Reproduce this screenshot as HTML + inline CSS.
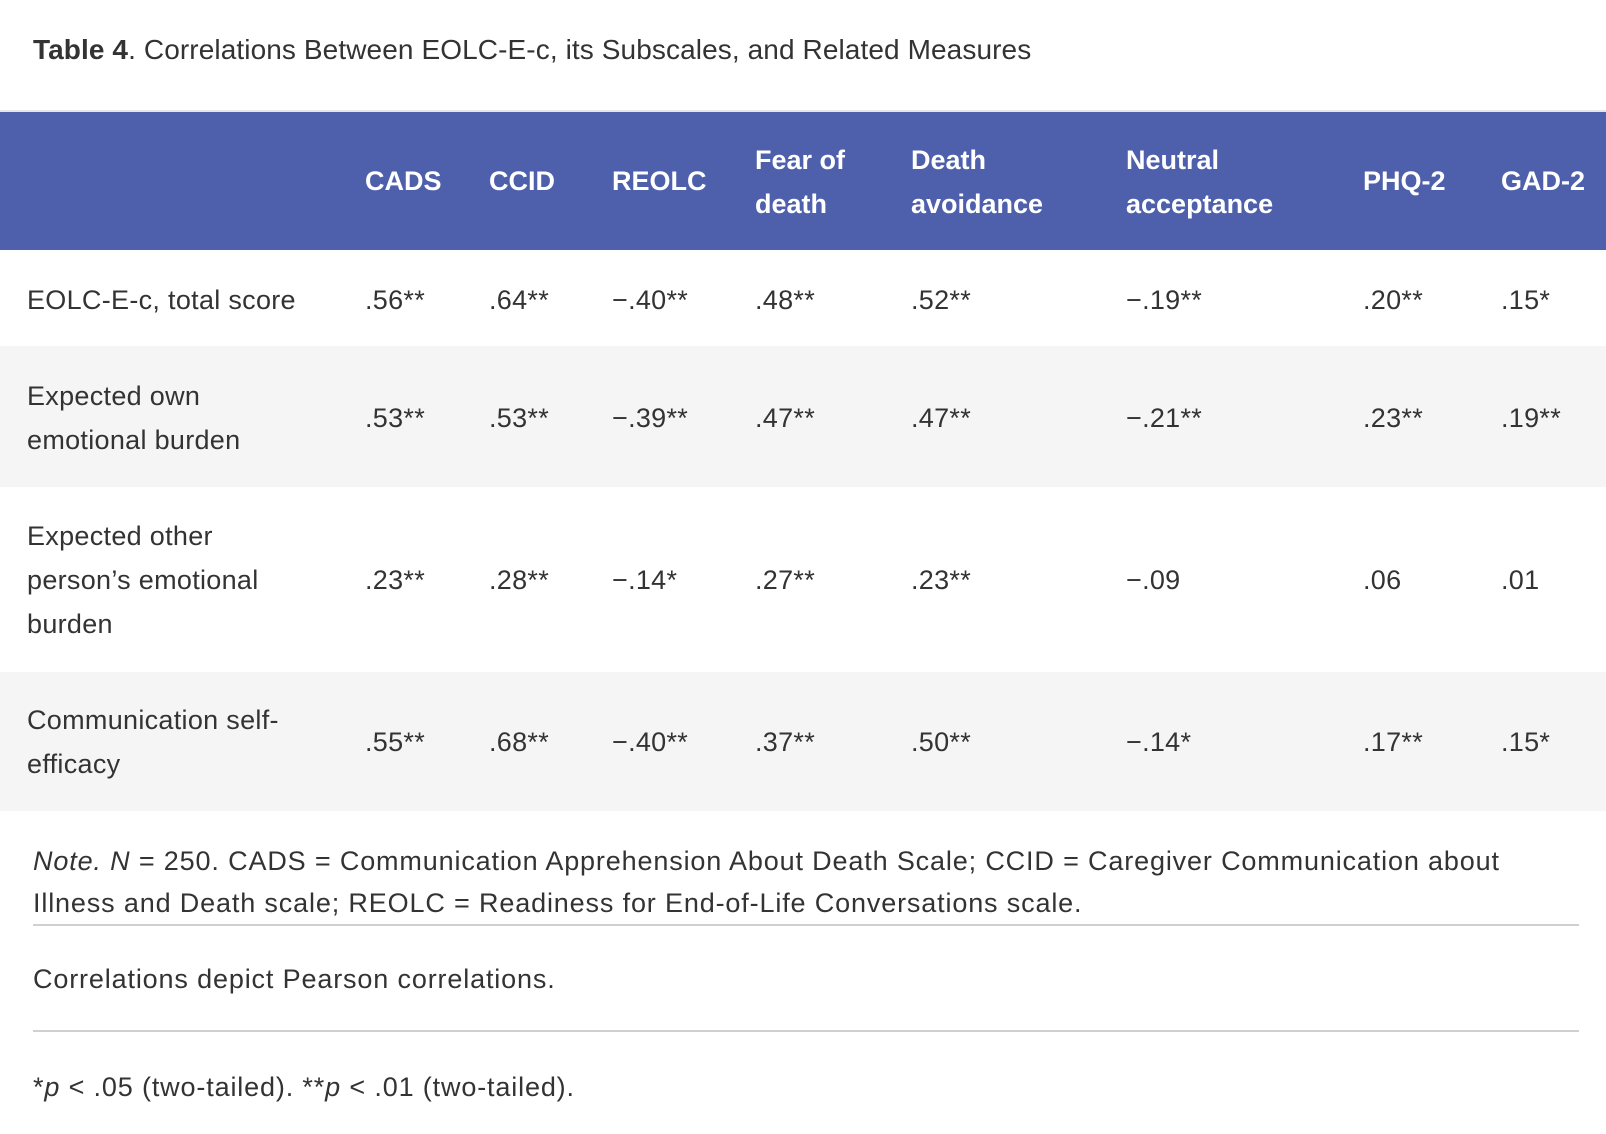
<!DOCTYPE html>
<html><head><meta charset="utf-8"><style>
body{margin:0;width:1606px;height:1134px;background:#fff;position:relative;overflow:hidden;font-family:"Liberation Sans",sans-serif;color:#333;}
.a{position:absolute;white-space:nowrap;}
.t{font-size:28px;top:34px;left:33px;letter-spacing:0.1px;}
.hdr{position:absolute;left:0;top:110px;width:1606px;height:140px;background:#4e60ab;border-top:2px solid #e6e6e6;box-sizing:border-box;}
.h{color:#fff;font-weight:bold;font-size:27px;line-height:44px;}
.row{position:absolute;left:0;width:1606px;}
.c{font-size:27px;line-height:44px;letter-spacing:0.3px;}
.n{font-size:27px;line-height:42px;letter-spacing:0.85px;}
.ln{position:absolute;left:33px;width:1546px;height:2px;background:#d0d0d0;}
</style></head><body>
<div class="a t"><b>Table 4</b>. Correlations Between EOLC-E-c, its Subscales, and Related Measures</div>
<div class="hdr"></div>
<div class="a h" style="left:365px;top:159px">CADS</div>
<div class="a h" style="left:489px;top:159px">CCID</div>
<div class="a h" style="left:612px;top:159px">REOLC</div>
<div class="a h" style="left:755px;top:138px">Fear of<br>death</div>
<div class="a h" style="left:911px;top:138px">Death<br>avoidance</div>
<div class="a h" style="left:1126px;top:138px">Neutral<br>acceptance</div>
<div class="a h" style="left:1363px;top:159px">PHQ-2</div>
<div class="a h" style="left:1501px;top:159px">GAD-2</div>

<div class="row" style="top:250px;height:96px;background:#fff"></div>
<div class="row" style="top:346px;height:141px;background:#f5f5f5"></div>
<div class="row" style="top:487px;height:185px;background:#fff"></div>
<div class="row" style="top:672px;height:139px;background:#f5f5f5"></div>

<div class="a c" style="left:27px;top:278px">EOLC-E-c, total score</div>
<div class="a c" style="left:27px;top:374px">Expected own<br>emotional burden</div>
<div class="a c" style="left:27px;top:514px">Expected other<br>person’s emotional<br>burden</div>
<div class="a c" style="left:27px;top:698px">Communication self-<br>efficacy</div>

<div class="a c" style="left:365px;top:278px">.56**</div><div class="a c" style="left:489px;top:278px">.64**</div><div class="a c" style="left:612px;top:278px">−.40**</div><div class="a c" style="left:755px;top:278px">.48**</div><div class="a c" style="left:911px;top:278px">.52**</div><div class="a c" style="left:1126px;top:278px">−.19**</div><div class="a c" style="left:1363px;top:278px">.20**</div><div class="a c" style="left:1501px;top:278px">.15*</div>
<div class="a c" style="left:365px;top:396px">.53**</div><div class="a c" style="left:489px;top:396px">.53**</div><div class="a c" style="left:612px;top:396px">−.39**</div><div class="a c" style="left:755px;top:396px">.47**</div><div class="a c" style="left:911px;top:396px">.47**</div><div class="a c" style="left:1126px;top:396px">−.21**</div><div class="a c" style="left:1363px;top:396px">.23**</div><div class="a c" style="left:1501px;top:396px">.19**</div>
<div class="a c" style="left:365px;top:558px">.23**</div><div class="a c" style="left:489px;top:558px">.28**</div><div class="a c" style="left:612px;top:558px">−.14*</div><div class="a c" style="left:755px;top:558px">.27**</div><div class="a c" style="left:911px;top:558px">.23**</div><div class="a c" style="left:1126px;top:558px">−.09</div><div class="a c" style="left:1363px;top:558px">.06</div><div class="a c" style="left:1501px;top:558px">.01</div>
<div class="a c" style="left:365px;top:720px">.55**</div><div class="a c" style="left:489px;top:720px">.68**</div><div class="a c" style="left:612px;top:720px">−.40**</div><div class="a c" style="left:755px;top:720px">.37**</div><div class="a c" style="left:911px;top:720px">.50**</div><div class="a c" style="left:1126px;top:720px">−.14*</div><div class="a c" style="left:1363px;top:720px">.17**</div><div class="a c" style="left:1501px;top:720px">.15*</div>

<div class="a n" style="left:33px;top:840px"><i>Note. N</i> = 250. CADS = Communication Apprehension About Death Scale; CCID = Caregiver Communication about<br>Illness and Death scale; REOLC = Readiness for End-of-Life Conversations scale.</div>
<div class="ln" style="top:924px"></div>
<div class="a n" style="left:33px;top:958px">Correlations depict Pearson correlations.</div>
<div class="ln" style="top:1030px"></div>
<div class="a n" style="left:33px;top:1066px">*<i>p</i> &lt; .05 (two-tailed). **<i>p</i> &lt; .01 (two-tailed).</div>
</body></html>
